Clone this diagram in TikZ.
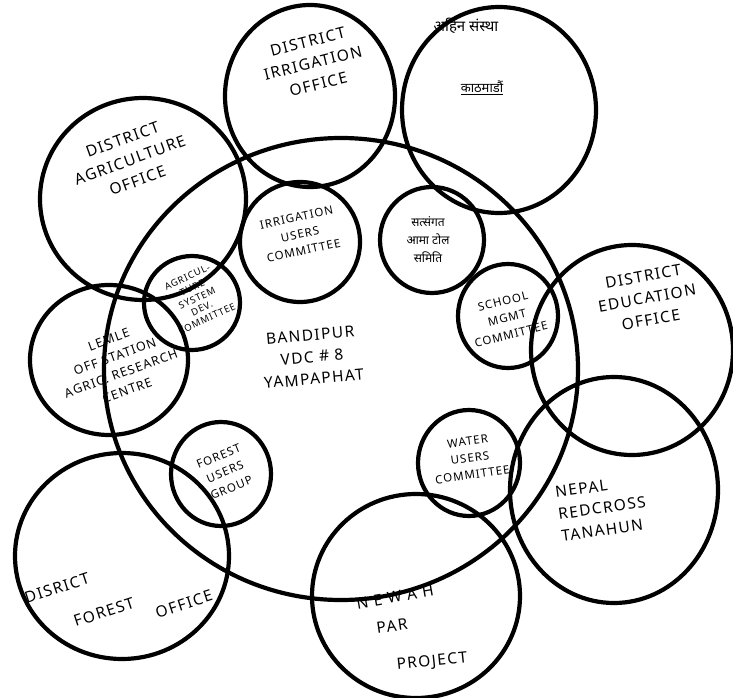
\documentclass[tikz,border=0pt]{standalone}
\usepackage{fontspec}
\setmainfont{Noto Sans}
\newfontfamily\handfont[LetterSpace=9]{Noto Sans}
\newfontfamily\devafont[Script=Devanagari]{Noto Sans}
\usetikzlibrary{shapes.geometric}

\begin{document}
\begin{tikzpicture}[
  x=1pt, y=-1pt,
  ring/.style={draw, ellipse, line width=4.2pt, inner sep=0pt},
  lab/.style={align=center, inner sep=0pt, font=\handfont\fontsize{15.5}{22}\selectfont},
  smalllab/.style={lab, font=\handfont\fontsize{11.5}{17}\selectfont},
  tinylab/.style={lab, font=\handfont\fontsize{9.5}{11.5}\selectfont},
  devlab/.style={lab, font=\devafont\fontsize{15}{20}\selectfont}
]
  \useasboundingbox (0,0) rectangle (733,698);

  % circles
  \node[ring, minimum width=474, minimum height=462] (vdc)    at (341,369) {};
  \node[ring, minimum width=170, minimum height=182] (irroff) at (310,96)  {};
  \node[ring, minimum width=194, minimum height=206] (ngo)    at (499,110) {};
  \node[ring, minimum width=206, minimum height=202] (agroff) at (143,199) {};
  \node[ring, minimum width=202, minimum height=210] (eduoff) at (632,350) {};
  \node[ring, minimum width=208, minimum height=226] (redx)   at (614,490) {};
  \node[ring, minimum width=208, minimum height=204] (newah)  at (416,596) {};
  \node[ring, minimum width=214, minimum height=206] (foroff) at (122,556) {};
  \node[ring, minimum width=158, minimum height=150] (lemle)  at (109,360) {};
  \node[ring, minimum width=96,  minimum height=94]  (agsys)  at (192,303) {};
  \node[ring, minimum width=120, minimum height=120] (iuc)    at (300,242) {};
  \node[ring, minimum width=104, minimum height=106] (sat)    at (432,240) {};
  \node[ring, minimum width=100, minimum height=104] (smc)    at (508,316) {};
  \node[ring, minimum width=100, minimum height=104] (fug)    at (221,474) {};
  \node[ring, minimum width=102, minimum height=106] (wuc)    at (469,463) {};

  % labels
  \node[lab, rotate=14] (irroff-t) at (313,63) {DISTRICT\\IRRIGATION\\OFFICE};
  \node[lab, rotate=20] (agroff-t) at (130,160) {DISTRICT\\AGRICULTURE\\OFFICE};
  \node[devlab] (ngo-t1) at (466,26) {अहिन संस्था};
  \node[devlab, font=\devafont\fontsize{13}{18}\selectfont] (ngo-t2) at (482,88) {\underline{काठमाडौं}};
  \node[smalllab, rotate=12] (iuc-t) at (300,234) {IRRIGATION\\USERS\\COMMITTEE};
  \node[devlab, font=\devafont\fontsize{12}{18}\selectfont] (sat-t) at (428,240) {सत्संगत\\आमा टोल\\समिति};
  \node[tinylab, rotate=25] (agsys-t) at (197,298) {AGRICUL-\\TURE\\SYSTEM\\DEV.\\COMMITTEE};
  \node[smalllab, rotate=20, font=\handfont\fontsize{12.5}{18}\selectfont] (lemle-t) at (118,365) {LEMLE\\OFF STATION\\AGRIC. RESEARCH\\CENTRE};
  \node[lab, rotate=5] (vdc-t) at (312,357) {BANDIPUR\\VDC \# 8\\YAMPAPHAT};
  \node[smalllab, rotate=14] (smc-t) at (507,318) {SCHOOL\\MGMT\\COMMITTEE};
  \node[lab, rotate=10] (eduoff-t) at (647,298) {DISTRICT\\EDUCATION\\OFFICE};
  \node[smalllab, rotate=22] (fug-t) at (225,472) {FOREST\\USERS\\GROUP};
  \node[smalllab, rotate=8] (wuc-t) at (470,458) {WATER\\USERS\\COMMITTEE};
  \node[lab, rotate=8, align=left] (redx-t) at (602,508) {NEPAL\\REDCROSS\\TANAHUN};
  \node[lab, rotate=10] (newah-t1) at (395,597) {N E W A H};
  \node[lab, rotate=8]  (newah-t2) at (392,626) {PAR};
  \node[lab, rotate=6]  (newah-t3) at (432,662) {PROJECT};
  \node[lab, rotate=18] (foroff-t1) at (57,588) {DISRICT};
  \node[lab, rotate=18] (foroff-t2) at (104,612) {FOREST};
  \node[lab, rotate=18] (foroff-t3) at (184,604) {OFFICE};
\end{tikzpicture}
\end{document}
